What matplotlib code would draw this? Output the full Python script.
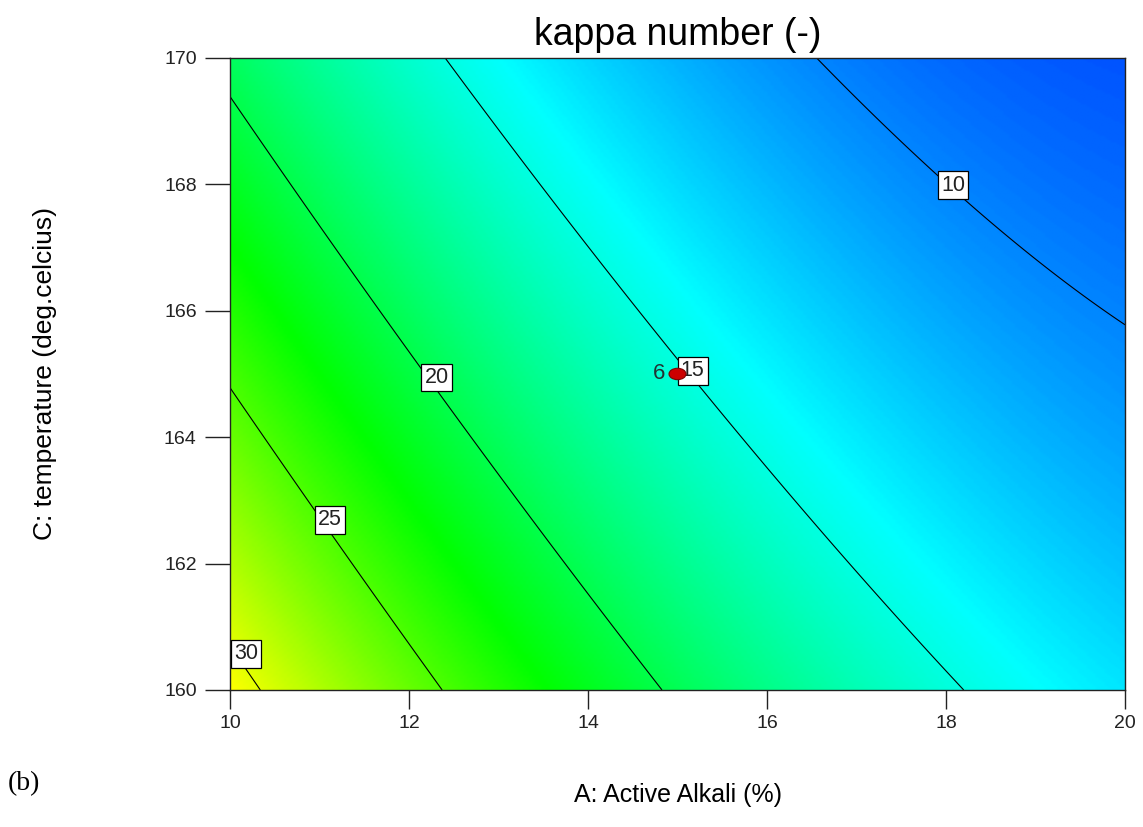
import numpy as np
import matplotlib
matplotlib.use("Agg")
import matplotlib.pyplot as plt
from matplotlib.colors import LinearSegmentedColormap
from matplotlib.patches import Ellipse

# factor ranges (actual units)
alkali_range = [10, 20]        # A: Active Alkali (%)
temp_range = [160, 170]        # C: temperature (deg.celcius)

# quadratic model in coded units: b0, A, C, AC, A^2, C^2
kappa_coef = [15.19, -7.19, -4.10, 1.66, 2.37, 0.40]

contour_levels = [10, 15, 20, 25, 30]
label_spots = [(18.08, 167.99), (15.17, 165.05), (12.31, 164.94), (11.12, 162.69), (10.18, 160.57)]

# design point (center replicates)
center_alkali = 15
center_temp = 165
center_count = 6

plt.rcParams['font.family'] = ['Liberation Sans', 'DejaVu Sans']


def kappa(A, C):
    a = (A - 15) / 5.0
    c = (C - 165) / 5.0
    b0, b1, b2, b12, b11, b22 = kappa_coef
    return b0 + b1 * a + b2 * c + b12 * a * c + b11 * a ** 2 + b22 * c ** 2


A = np.linspace(alkali_range[0], alkali_range[1], 300)
C = np.linspace(temp_range[0], temp_range[1], 300)
AA, CC = np.meshgrid(A, C)
K = kappa(AA, CC)

de_cmap = LinearSegmentedColormap.from_list(
    "de", ["#0000ff", "#00ffff", "#00ff00", "#ffff00", "#ff0000"])

fig = plt.figure(figsize=(11.43, 8.27), dpi=100)
ax = fig.add_axes([0.2012, 0.1657, 0.7831, 0.7642])

ax.imshow(K, extent=[alkali_range[0], alkali_range[1], temp_range[0], temp_range[1]],
          origin='lower', aspect='auto', cmap=de_cmap, vmin=5.5, vmax=39.5,
          interpolation='bilinear')

ax.contour(AA, CC, K, levels=contour_levels, colors='black', linewidths=0.8)

# boxed level labels, kept upright
for lev, (lx, ly) in zip(contour_levels, label_spots):
    ax.text(lx, ly, f"{lev}", fontsize=15.5, color='#222222', ha='center', va='center', zorder=4,
            bbox=dict(boxstyle='square,pad=0.15', facecolor='white', edgecolor='black', linewidth=0.9))

# center point
ax.add_patch(Ellipse((center_alkali, center_temp), 0.19, 0.18,
                     facecolor='#cc0000', edgecolor='#800000', linewidth=0.8, zorder=5))
ax.text(center_alkali - 0.14, center_temp, str(center_count), fontsize=16,
        color='#223333', ha='right', va='center', zorder=5)

ax.set_xlim(alkali_range)
ax.set_ylim(temp_range)
ax.set_xticks(np.arange(10, 21, 2))
ax.set_yticks(np.arange(160, 171, 2))
ax.tick_params(axis='y', direction='out', length=18, width=1, pad=6, labelsize=14, colors='#222222')
ax.tick_params(axis='x', direction='out', length=14, width=1, pad=4, labelsize=14, colors='#222222')
for s in ax.spines.values():
    s.set_linewidth(1)
    s.set_color('#222222')

ax.set_title("kappa number (-)", fontsize=27, pad=9)
ax.set_xlabel("A: Active Alkali (%)", fontsize=18)
ax.set_ylabel("C: temperature (deg.celcius)", fontsize=19)
ax.xaxis.set_label_coords(0.5, -0.147)
ax.yaxis.set_label_coords(-0.193, 0.5)

fig.text(0.007, 0.053, "(b)", fontsize=20, family=['Liberation Serif', 'DejaVu Serif'],
         ha='left', va='center')

fig.savefig("out.png", dpi=100)
